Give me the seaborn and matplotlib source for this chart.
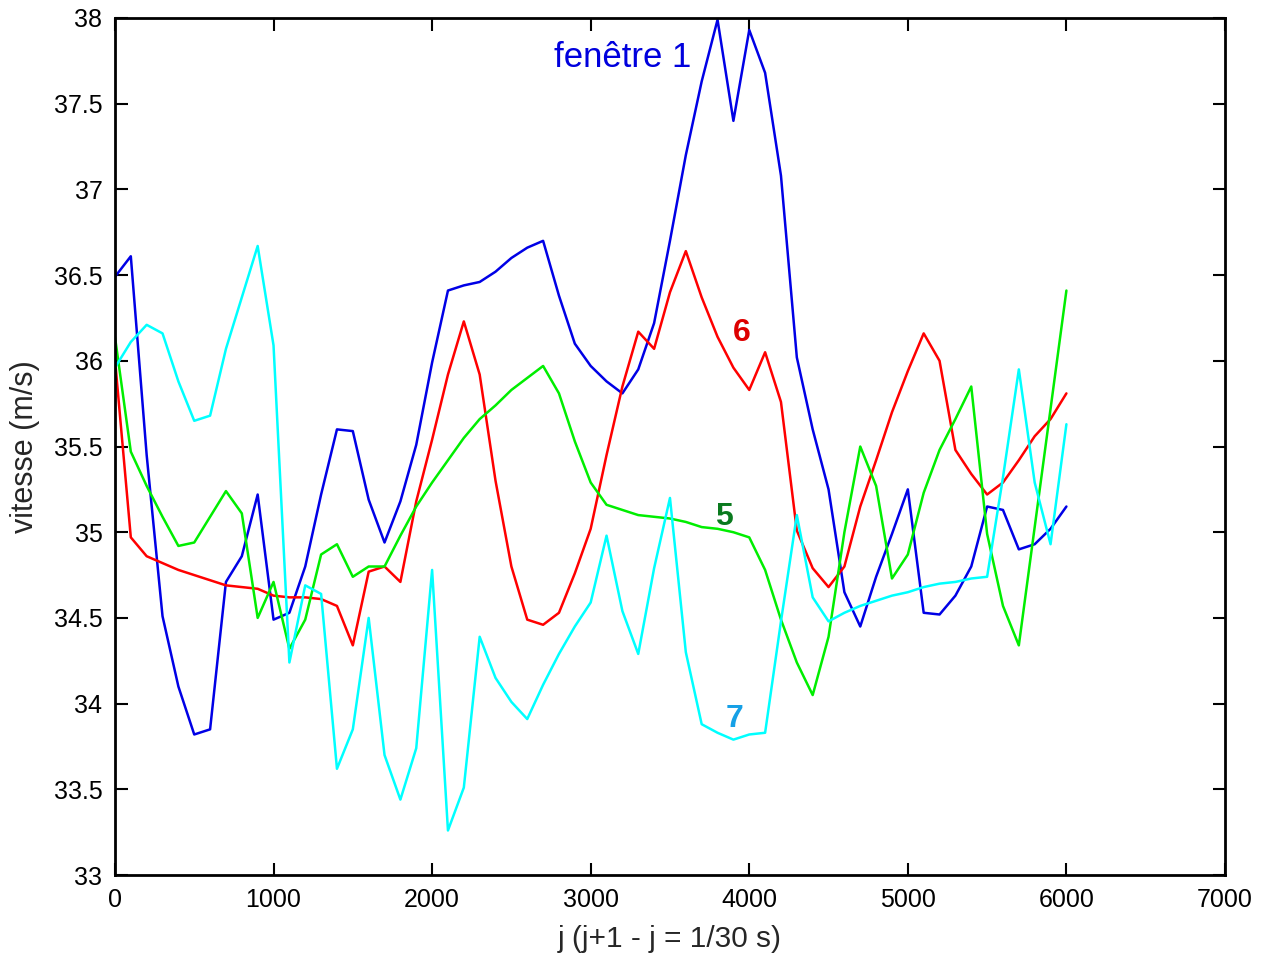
import numpy as np
import pandas as pd
import matplotlib
matplotlib.use("Agg")
import matplotlib.pyplot as plt
import seaborn as sns

# Frame index (one sample every 100 frames)
frames = list(range(0, 6100, 100))

# Speed (m/s) for each window
fenetre_1 = [36.49, 36.61, 35.45, 34.51, 34.10, 33.82, 33.85, 34.71, 34.86, 35.22,
             34.49, 34.53, 34.80, 35.22, 35.60, 35.59, 35.19, 34.94, 35.18, 35.51,
             35.99, 36.41, 36.44, 36.46, 36.52, 36.60, 36.66, 36.70, 36.38, 36.10,
             35.97, 35.88, 35.81, 35.95, 36.22, 36.70, 37.20, 37.63, 37.99, 37.40,
             37.93, 37.68, 37.08, 36.02, 35.60, 35.25, 34.65, 34.45, 34.74, 34.99,
             35.25, 34.53, 34.52, 34.63, 34.80, 35.15, 35.13, 34.90, 34.93, 35.02,
             35.15]

fenetre_6 = [36.01, 34.97, 34.86, 34.82, 34.78, 34.75, 34.72, 34.69, 34.68, 34.67,
             34.63, 34.62, 34.62, 34.61, 34.57, 34.34, 34.77, 34.80, 34.71, 35.18,
             35.54, 35.92, 36.23, 35.92, 35.30, 34.80, 34.49, 34.46, 34.53, 34.76,
             35.02, 35.45, 35.85, 36.17, 36.07, 36.40, 36.64, 36.37, 36.14, 35.96,
             35.83, 36.05, 35.76, 35.01, 34.79, 34.68, 34.80, 35.15, 35.42, 35.70,
             35.94, 36.16, 36.00, 35.48, 35.34, 35.22, 35.29, 35.42, 35.56, 35.66,
             35.81]

fenetre_5 = [36.14, 35.47, 35.27, 35.09, 34.92, 34.94, 35.09, 35.24, 35.11, 34.50,
             34.71, 34.32, 34.49, 34.87, 34.93, 34.74, 34.80, 34.80, 34.98, 35.15,
             35.29, 35.42, 35.55, 35.66, 35.74, 35.83, 35.90, 35.97, 35.81, 35.53,
             35.29, 35.16, 35.13, 35.10, 35.09, 35.08, 35.06, 35.03, 35.02, 35.00,
             34.97, 34.78, 34.49, 34.24, 34.05, 34.39, 35.00, 35.50, 35.27, 34.73,
             34.87, 35.23, 35.48, 35.66, 35.85, 34.99, 34.57, 34.34, 35.03, 35.72,
             36.41]

fenetre_7 = [35.96, 36.11, 36.21, 36.16, 35.88, 35.65, 35.68, 36.07, 36.37, 36.67,
             36.09, 34.24, 34.69, 34.64, 33.62, 33.85, 34.50, 33.70, 33.44, 33.74,
             34.78, 33.26, 33.51, 34.39, 34.15, 34.01, 33.91, 34.11, 34.29, 34.45,
             34.59, 34.98, 34.54, 34.29, 34.79, 35.20, 34.30, 33.88, 33.83, 33.79,
             33.82, 33.83, 34.48, 35.10, 34.62, 34.48, 34.53, 34.57, 34.60, 34.63,
             34.65, 34.68, 34.70, 34.71, 34.73, 34.74, 35.32, 35.95, 35.29, 34.93,
             35.63]

windows = ["1", "6", "5", "7"]
line_colors = {"1": "#0000e6", "6": "#ff0000", "5": "#00ee00", "7": "#00ffff"}

# Curve labels: text, x, y, colour
label_texts = ["fenêtre 1", "6", "5", "7"]
label_x = [3200, 3955, 3840, 3905]
label_y = [37.77, 36.16, 35.09, 33.91]
label_colors = ["#0000dd", "#dd0000", "#0a7a1e", "#16a0e6"]

df = pd.concat([
    pd.DataFrame({"j": frames, "vitesse": vals, "fenetre": name})
    for name, vals in zip(windows, [fenetre_1, fenetre_6, fenetre_5, fenetre_7])
], ignore_index=True)

sns.set_style("ticks")
plt.rcParams["font.family"] = ["Liberation Sans", "DejaVu Sans"]

fig = plt.figure(figsize=(12.66, 9.6), dpi=100)
ax = fig.add_axes([0.0908, 0.0885, 0.9676 - 0.0908, 0.98125 - 0.0885])

sns.lineplot(data=df, x="j", y="vitesse", hue="fenetre", hue_order=windows,
             palette=line_colors, linewidth=1.8, legend=False, ax=ax,
             estimator=None, sort=False)

ax.set_xlim(0, 7000)
ax.set_ylim(33, 38)
ax.set_xticks(np.arange(0, 7001, 1000))
ax.set_yticks(np.arange(33, 38.01, 0.5))
ax.set_yticklabels(["33", "33.5", "34", "34.5", "35", "35.5", "36", "36.5", "37", "37.5", "38"])

ax.tick_params(direction="in", length=9, width=1.5, top=True, right=True,
               labelsize=18, colors="black", pad=9)
for side in ax.spines.values():
    side.set_linewidth(2.0)
    side.set_color("black")

ax.set_xlabel("j (j+1 - j = 1/30 s)", fontsize=21.5, labelpad=10)
ax.set_ylabel("vitesse (m/s)", fontsize=22, labelpad=10)

for txt, x, y, c in zip(label_texts, label_x, label_y, label_colors):
    bold = txt != "fenêtre 1"
    ax.text(x, y, txt, color=c, fontsize=23 if bold else 25,
            fontweight="bold" if bold else "normal",
            ha="center", va="center")

fig.savefig("out.png", dpi=100, facecolor="white")
